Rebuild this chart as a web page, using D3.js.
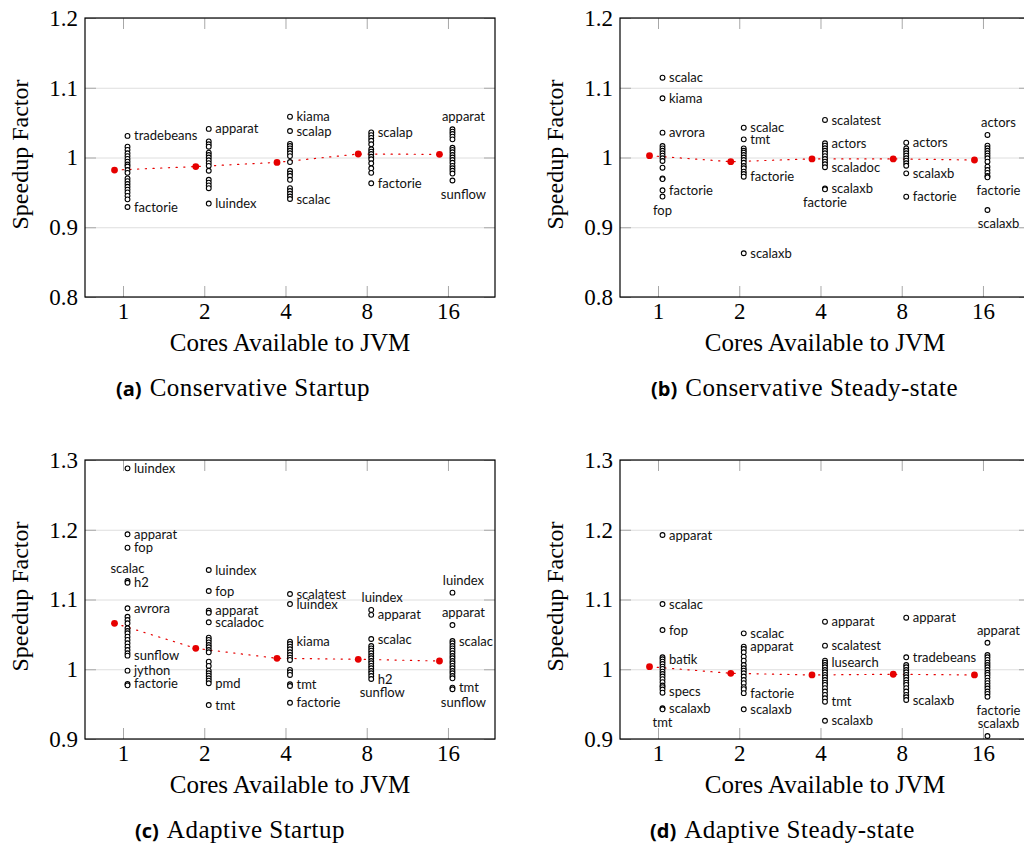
<!DOCTYPE html>
<html>
<head>
<meta charset="utf-8">
<script src="https://cdn.jsdelivr.net/npm/d3@7"></script>
<style>
	body { margin: 0; background: #fff; }
	.serif { font-family: 'Liberation Serif', 'Times New Roman', serif; }
	.tick text { font-family: 'Liberation Serif', serif; font-size: 23px; fill: #000; }
	.pt-label { font-family: Lato, 'DejaVu Sans', sans-serif; font-size: 13px; fill: #111; }
</style>
</head>
<body>
<div class="graphic"></div>
<script>
const cores = [1, 2, 4, 8, 16]
const yTicksTop = [0.8, 0.9, 1, 1.1, 1.2]
const yTicksBottom = [0.9, 1, 1.1, 1.2, 1.3]

// (a) conservative startup
const a1 = [1.031, 1.0155, 1.011, 1.006, 1.002, 0.998, 0.994, 0.990, 0.987, 0.982, 0.978, 0.970, 0.966, 0.962, 0.958, 0.954, 0.950, 0.945, 0.940, 0.929]
const a2 = [1.041, 1.023, 1.019, 1.0155, 1.007, 1.0036, 1.0, 0.996, 0.992, 0.988, 0.981, 0.968, 0.964, 0.960, 0.956, 0.934]
const a4 = [1.0585, 1.038, 1.0194, 1.0165, 1.013, 1.0097, 1.006, 1.002, 0.9935, 0.981, 0.977, 0.9735, 0.968, 0.956, 0.952, 0.948, 0.944, 0.9405]
const a8 = [1.036, 1.032, 1.028, 1.024, 1.019, 1.0118, 1.0083, 1.005, 1.001, 0.9974, 0.9917, 0.9845, 0.978, 0.963]
const a16 = [1.0404, 1.037, 1.0337, 1.030, 1.026, 1.014, 1.011, 1.0075, 1.0036, 1.0, 0.9964, 0.9925, 0.988, 0.9845, 0.981, 0.977, 0.967]
const aMeans = [0.982, 0.987, 0.993, 1.005, 1.0045]
const aLabels = [
	[0, 1.031, 'tradebeans', 'r'], [0, 0.929, 'factorie', 'r'],
	[1, 1.041, 'apparat', 'r'], [1, 0.934, 'luindex', 'r'],
	[2, 1.0585, 'kiama', 'r'], [2, 1.038, 'scalap', 'r'], [2, 0.9405, 'scalac', 'r'],
	[3, 1.036, 'scalap', 'r'], [3, 0.963, 'factorie', 'r'],
	[4, 1.0404, 'apparat', 'ar'], [4, 0.967, 'sunflow', 'br'],
]

// (b) conservative steady-state
const b1 = [1.1144, 1.0849, 1.0356, 1.0165, 1.013, 1.0097, 1.006, 1.0026, 0.9989, 0.995, 0.9854, 0.970, 0.969, 0.953, 0.944]
const b2 = [1.0427, 1.026, 1.013, 1.0097, 1.007, 1.0036, 1.0, 0.9964, 0.9925, 0.9878, 0.9845, 0.9797, 0.9763, 0.9725, 0.8627]
const b4 = [1.0538, 1.0204, 1.017, 1.0132, 1.0097, 1.006, 1.002, 0.9978, 0.994, 0.9903, 0.986, 0.9558, 0.9544]
const b8 = [1.0212, 1.013, 1.0097, 1.006, 1.0026, 0.9989, 0.9954, 0.9917, 0.9882, 0.9773, 0.9438]
const b16 = [1.0323, 1.0169, 1.0132, 1.0097, 1.006, 1.0026, 0.9989, 0.994, 0.9868, 0.982, 0.978, 0.9735, 0.9716, 0.9247]
const bMeans = [1.0026, 0.994, 0.998, 0.998, 0.9964]
const bLabels = [
	[0, 1.1144, 'scalac', 'r'], [0, 1.0849, 'kiama', 'r'], [0, 1.0356, 'avrora', 'r'], [0, 0.953, 'factorie', 'r'], [0, 0.944, 'fop', 'b'],
	[1, 1.0427, 'scalac', 'r'], [1, 1.026, 'tmt', 'r'], [1, 0.9725, 'factorie', 'r'], [1, 0.8627, 'scalaxb', 'r'],
	[2, 1.0538, 'scalatest', 'r'], [2, 1.0204, 'actors', 'r'], [2, 0.986, 'scaladoc', 'r'], [2, 0.9558, 'scalaxb', 'r'], [2, 0.9544, 'factorie', 'b'],
	[3, 1.0212, 'actors', 'r'], [3, 0.9773, 'scalaxb', 'r'], [3, 0.9438, 'factorie', 'r'],
	[4, 1.0323, 'actors', 'ar'], [4, 0.9716, 'factorie', 'br'], [4, 0.9247, 'scalaxb', 'br'],
]

// (c) adaptive startup
const c1 = [1.288, 1.1935, 1.1743, 1.1265, 1.124, 1.0874, 1.0753, 1.0706, 1.0659, 1.0587, 1.0548, 1.0516, 1.0467, 1.042, 1.0372, 1.0323, 1.0276, 1.0229, 1.0195, 0.998, 0.979, 0.977]
const c2 = [1.1423, 1.1122, 1.084, 1.081, 1.0673, 1.0452, 1.042, 1.0386, 1.0348, 1.0315, 1.0276, 1.0243, 1.0108, 1.0047, 0.998, 0.9942, 0.9908, 0.987, 0.9836, 0.9799, 0.9487]
const c4 = [1.1079, 1.0935, 1.0395, 1.0362, 1.0323, 1.0286, 1.0243, 1.0204, 1.0166, 1.0133, 0.999, 0.9956, 0.9918, 0.9784, 0.976, 0.952]
const c8 = [1.085, 1.078, 1.0434, 1.0333, 1.030, 1.0266, 1.0229, 1.019, 1.0157, 1.0118, 1.0085, 1.0047, 1.0014, 0.9975, 0.9942, 0.9903, 0.986]
const c16 = [1.1098, 1.0634, 1.0405, 1.0372, 1.0333, 1.030, 1.0266, 1.0229, 1.019, 1.0157, 1.0118, 1.0085, 1.0047, 1.0014, 0.9975, 0.9942, 0.9903, 0.987, 0.9736, 0.9713]
const cMeans = [1.0659, 1.030, 1.0157, 1.0143, 1.0118]
const cLabels = [
	[0, 1.288, 'luindex', 'r'], [0, 1.1935, 'apparat', 'r'], [0, 1.1743, 'fop', 'r'], [0, 1.1265, 'scalac', 'a'], [0, 1.124, 'h2', 'r'],
	[0, 1.0874, 'avrora', 'r'], [0, 1.0195, 'sunflow', 'r'], [0, 0.998, 'jython', 'r'], [0, 0.979, 'factorie', 'r'],
	[1, 1.1423, 'luindex', 'r'], [1, 1.1122, 'fop', 'r'], [1, 1.084, 'apparat', 'r'], [1, 1.0673, 'scaladoc', 'r'], [1, 0.9799, 'pmd', 'r'], [1, 0.9487, 'tmt', 'r'],
	[2, 1.1079, 'scalatest', 'r'], [2, 1.0935, 'luindex', 'r'], [2, 1.0395, 'kiama', 'r'], [2, 0.9784, 'tmt', 'r'], [2, 0.952, 'factorie', 'r'],
	[3, 1.085, 'luindex', 'ar'], [3, 1.078, 'apparat', 'r'], [3, 1.0434, 'scalac', 'r'], [3, 0.986, 'h2', 'r'], [3, 0.986, 'sunflow', 'br'],
	[4, 1.1098, 'luindex', 'ar'], [4, 1.0634, 'apparat', 'ar'], [4, 1.0405, 'scalac', 'r'], [4, 0.9736, 'tmt', 'r'], [4, 0.9713, 'sunflow', 'br'],
]

// (d) adaptive steady-state
const d1 = [1.1925, 1.0935, 1.0563, 1.0171, 1.0143, 1.0108, 1.0075, 1.0037, 1.0004, 0.9966, 0.9932, 0.9895, 0.9857, 0.9815, 0.9767, 0.9744, 0.971, 0.9664, 0.944, 0.9426]
const d2 = [1.0515, 1.0323, 1.029, 1.0243, 1.0181, 1.0123, 1.0061, 1.0014, 0.998, 0.9942, 0.9895, 0.9846, 0.980, 0.9743, 0.9715, 0.9657, 0.9426]
const d4 = [1.0682, 1.0338, 1.0123, 1.0094, 1.0061, 1.0028, 0.9989, 0.9956, 0.9918, 0.9885, 0.9846, 0.9808, 0.9775, 0.9728, 0.968, 0.9632, 0.9584, 0.9535, 0.9262]
const d8 = [1.0739, 1.0171, 1.0061, 1.0028, 0.9989, 0.9956, 0.9918, 0.9885, 0.9846, 0.9808, 0.9775, 0.9728, 0.968, 0.9632, 0.9598, 0.9559]
const d16 = [1.038, 1.0204, 1.0171, 1.0133, 1.0094, 1.0061, 1.0028, 0.9989, 0.995, 0.9918, 0.988, 0.9837, 0.980, 0.9761, 0.9723, 0.968, 0.9647, 0.9606, 0.9043]
const dMeans = [1.0037, 0.9942, 0.9918, 0.9928, 0.9918]
const dLabels = [
	[0, 1.1925, 'apparat', 'r'], [0, 1.0935, 'scalac', 'r'], [0, 1.0563, 'fop', 'r'], [0, 1.0143, 'batik', 'r'], [0, 0.968, 'specs', 'r'],
	[0, 0.944, 'scalaxb', 'r'], [0, 0.9426, 'tmt', 'b'],
	[1, 1.0515, 'scalac', 'r'], [1, 1.0323, 'apparat', 'r'], [1, 0.9657, 'factorie', 'r'], [1, 0.9426, 'scalaxb', 'r'],
	[2, 1.0682, 'apparat', 'r'], [2, 1.0338, 'scalatest', 'r'], [2, 1.0094, 'lusearch', 'r'], [2, 0.9535, 'tmt', 'r'], [2, 0.9262, 'scalaxb', 'r'],
	[3, 1.0739, 'apparat', 'r'], [3, 1.0171, 'tradebeans', 'r'], [3, 0.9559, 'scalaxb', 'r'],
	[4, 1.038, 'apparat', 'ar'], [4, 0.9606, 'factorie', 'br'], [4, 0.9043, 'scalaxb', 'ar'],
]

const width = 410
const height = 279
const red = '#e60000'
const serifFont = "'Liberation Serif', 'Times New Roman', serif"

const svg = d3.select('.graphic').append('svg')
	.attr('width', 1024)
	.attr('height', 843)

const panels = [
	{ left: 85, top: 18, groups: [a1, a2, a4, a8, a16], means: aMeans, labels: aLabels, yTicks: yTicksTop, tag: '(a)', title: 'Conservative Startup', capX: 116 },
	{ left: 620, top: 18, groups: [b1, b2, b4, b8, b16], means: bMeans, labels: bLabels, yTicks: yTicksTop, tag: '(b)', title: 'Conservative Steady-state', capX: 651 },
	{ left: 85, top: 460, groups: [c1, c2, c4, c8, c16], means: cMeans, labels: cLabels, yTicks: yTicksBottom, tag: '(c)', title: 'Adaptive Startup', capX: 135 },
	{ left: 620, top: 460, groups: [d1, d2, d4, d8, d16], means: dMeans, labels: dLabels, yTicks: yTicksBottom, tag: '(d)', title: 'Adaptive Steady-state', capX: 650 },
]

const yFormat = d => (d === 1 ? '1' : d3.format('.1f')(d))

function drawPanel(p) {
	const g = svg.append('g')
		.attr('transform', `translate(${p.left},${p.top})`)

	const x = d3.scaleLog().base(2)
		.domain([0.723, 23.9])
		.range([0, width])

	const y = d3.scaleLinear()
		.domain(d3.extent(p.yTicks))
		.range([height, 0])

	// grid
	g.append('g')
		.attr('class', 'grid')
		.call(d3.axisLeft(y).tickValues(p.yTicks).tickSize(-width).tickFormat(''))
		.call(s => s.select('.domain').remove())
		.selectAll('line')
			.attr('stroke', '#dedede')

	// axes, ticks pointing inward
	g.append('g')
		.attr('class', 'axis axis--y')
		.call(d3.axisLeft(y).tickValues(p.yTicks).tickSizeInner(-11).tickSizeOuter(0).tickPadding(7).tickFormat(yFormat))
		.call(s => s.select('.domain').remove())

	g.append('g')
		.attr('transform', `translate(${width},0)`)
		.call(d3.axisRight(y).tickValues(p.yTicks).tickSizeInner(-11).tickSizeOuter(0).tickFormat(''))
		.call(s => s.select('.domain').remove())

	g.append('g')
		.attr('class', 'axis axis--x')
		.attr('transform', `translate(0,${height})`)
		.call(d3.axisBottom(x).tickValues(cores).tickSizeInner(-11).tickSizeOuter(0).tickPadding(6).tickFormat(d3.format('d')))
		.call(s => s.select('.domain').remove())

	g.append('g')
		.call(d3.axisTop(x).tickValues(cores).tickSizeInner(-11).tickSizeOuter(0).tickFormat(''))
		.call(s => s.select('.domain').remove())

	g.selectAll('.tick line').filter(function () { return !this.closest('.grid') })
		.attr('stroke', '#a8a8a8')

	g.selectAll('.tick text')
		.attr('fill', '#000')
		.style('font-family', serifFont)

	// frame
	g.append('rect')
		.attr('width', width)
		.attr('height', height)
		.attr('fill', 'none')
		.attr('stroke', '#000')
		.attr('stroke-width', 1.2)

	// means
	const meanX = (d, i) => x(cores[i]) - 8.5
	g.append('path')
		.datum(p.means)
		.attr('fill', 'none')
		.attr('stroke', red)
		.attr('stroke-width', 1.2)
		.attr('stroke-dasharray', '1.2,6.5')
		.attr('stroke-linecap', 'round')
		.attr('d', d3.line().x(meanX).y(d => y(d)))

	g.append('g')
		.selectAll('circle')
		.data(p.means)
		.enter().append('circle')
			.attr('cx', meanX)
			.attr('cy', d => y(d))
			.attr('r', 3.4)
			.attr('fill', red)

	// benchmark points
	const pts = p.groups.flatMap((vals, i) => vals.map(v => ({ core: cores[i], v })))
	g.append('g')
		.selectAll('circle')
		.data(pts)
		.enter().append('circle')
			.attr('cx', d => x(d.core) + 4.5)
			.attr('cy', d => y(d.v))
			.attr('r', 2.4)
			.attr('fill', '#fff')
			.attr('stroke', '#000')
			.attr('stroke-width', 1.1)

	// point labels
	g.append('g')
		.selectAll('text')
		.data(p.labels)
		.enter().append('text')
			.attr('class', 'pt-label')
			.attr('x', d => {
				const cx = x(cores[d[0]]) + 4.5
				if (d[3] === 'r') return cx + 6.5
				if (d[3] === 'ar' || d[3] === 'br') return cx + 11
				return cx
			})
			.attr('y', d => {
				const cy = y(d[1])
				if (d[3][0] === 'a') return cy - 12.5
				if (d[3][0] === 'b') return cy + 13.5
				return cy
			})
			.attr('dy', '0.35em')
			.attr('text-anchor', d => (d[3] === 'r' ? 'start' : 'middle'))
			.text(d => d[2])

	// axis titles
	g.append('text')
		.style('font-family', serifFont)
		.attr('font-size', 24)
		.attr('text-anchor', 'middle')
		.attr('transform', `translate(${28 - p.left + (p.left > 300 ? 535 : 0)},${height / 2 - 3}) rotate(-90)`)
		.text('Speedup Factor')

	g.append('text')
		.style('font-family', serifFont)
		.attr('font-size', 25)
		.attr('text-anchor', 'middle')
		.attr('x', 205)
		.attr('y', height + 54)
		.text('Cores Available to JVM')

	const cap = svg.append('text')
		.attr('x', p.capX)
		.attr('y', p.top + height + 99)
	cap.append('tspan')
		.style('font-family', "'Open Sans', 'DejaVu Sans', sans-serif")
		.attr('font-weight', 700)
		.attr('font-size', 20)
		.text(p.tag)
	cap.append('tspan')
		.style('font-family', serifFont)
		.attr('font-size', 25)
		.attr('letter-spacing', 0.5)
		.attr('dx', 8)
		.text(p.title)
}

panels.forEach(drawPanel)
</script>
</body>
</html>
